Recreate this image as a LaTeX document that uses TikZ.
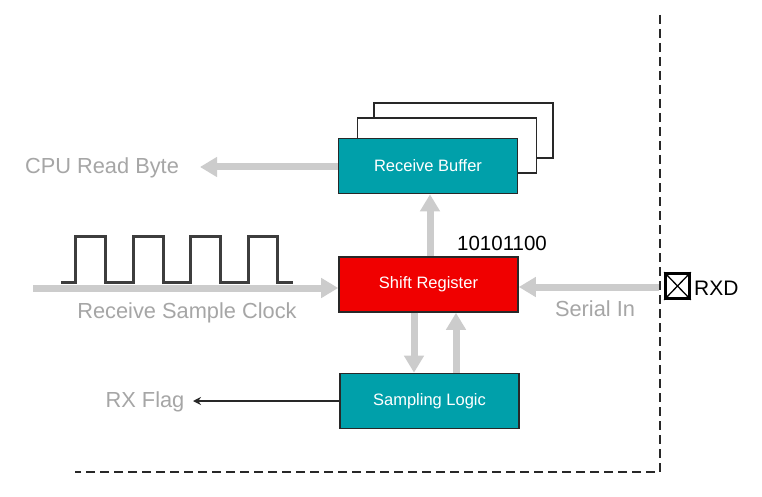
\documentclass[tikz,border=0pt]{standalone}
\usepackage{fontspec}
\setmainfont{Liberation Sans}
\usetikzlibrary{arrows.meta,calc}
\definecolor{teal}{RGB}{0,160,170}
\definecolor{regred}{RGB}{240,0,0}
\definecolor{flowgray}{RGB}{204,204,204}
\definecolor{labelgray}{RGB}{166,166,166}
\definecolor{edgecol}{RGB}{40,40,40}
\begin{document}
\begin{tikzpicture}[x=1pt,y=-1pt,
  block/.style={draw=edgecol,line width=1.6pt,minimum width=179pt,minimum height=55pt,inner sep=0pt,text=white,font=\fontsize{16.5}{18}\selectfont},
  shadowbox/.style={draw=edgecol,line width=1.6pt,fill=white,minimum width=179pt,minimum height=55pt,inner sep=0pt},
  flow/.style={draw=flowgray,line width=7pt,-{Triangle[width=19pt,length=17pt]}},
  glabel/.style={text=labelgray,font=\fontsize{21.8}{24}\selectfont,inner sep=0pt},
  boundary/.style={draw=edgecol,line width=1.5pt,dash pattern=on 9pt off 5pt}
]
\useasboundingbox (0,0) rectangle (762,497);
\fill[white] (0,0) rectangle (762,497);

% chip boundary
\draw[boundary] (660,15) -- (660,472) -- (75,472);

% stacked receive buffer
\node[shadowbox] (buf3) at (463.5,130.5) {};
\node[shadowbox] (buf2) at (447,145.5) {};
\node[block,fill=teal] (buf) at (428,166) {Receive Buffer};

\node[block,fill=regred] (shift) at (428.5,284.5) {Shift Register};
\node[block,fill=teal] (samp) at (429.5,401) {Sampling Logic};

% free ends of the connectors
\coordinate (cpuout) at (200,167);
\coordinate (clkin) at (33,288);
\coordinate (serin) at (659,287);
\coordinate (flagout) at (193,401);

% data paths
\draw[flow] ($(shift.north)+(1.5,0)$) -- ($(buf.south)+(2,0)$);
\draw[flow] (buf.west |- cpuout) -- (cpuout);
\draw[flow] (clkin) -- (shift.west |- clkin);
\draw[flow] (serin) -- (shift.east |- serin);
\draw[flow] (shift.south -| 414,0) -- (samp.north -| 414,0);
\draw[flow] (samp.north -| 456,0) -- (shift.south -| 456,0);
\draw[edgecol,line width=1.4pt,-{Stealth[length=8pt,width=8pt]}] (samp.west) -- (flagout);

% sample clock waveform
\draw[edgecol!90,line width=3pt,line join=miter]
  (61,282) -- (75,282) -- (75,236) -- (105,236) -- (105,282)
  -- (133,282) -- (133,236) -- (163,236) -- (163,282)
  -- (190,282) -- (190,236) -- (220,236) -- (220,282)
  -- (248,282) -- (248,236) -- (277,236) -- (277,282) -- (293,282);

% labels
\node[glabel] (cpulbl) at (102,168) {CPU Read Byte};
\node[glabel] (clklbl) at (187,313) {Receive Sample Clock};
\node[glabel] (serlbl) at (595,309) {Serial In};
\node[glabel] (flaglbl) at (145,402) {RX Flag};
\node[inner sep=0pt,font=\fontsize{20.5}{24}\selectfont] (bits) at (502,243) {10101100};

% RXD pin
\node[draw=black,line width=2.6pt,minimum width=24pt,minimum height=25pt,inner sep=0pt] (pin) at (677.5,286) {};
\draw[black,line width=1.3pt] (pin.north west) -- (pin.south east) (pin.north east) -- (pin.south west);
\node[anchor=west,inner sep=0pt,font=\fontsize{21}{24}\selectfont] (rxd) at (694,288) {RXD};
\end{tikzpicture}
\end{document}
